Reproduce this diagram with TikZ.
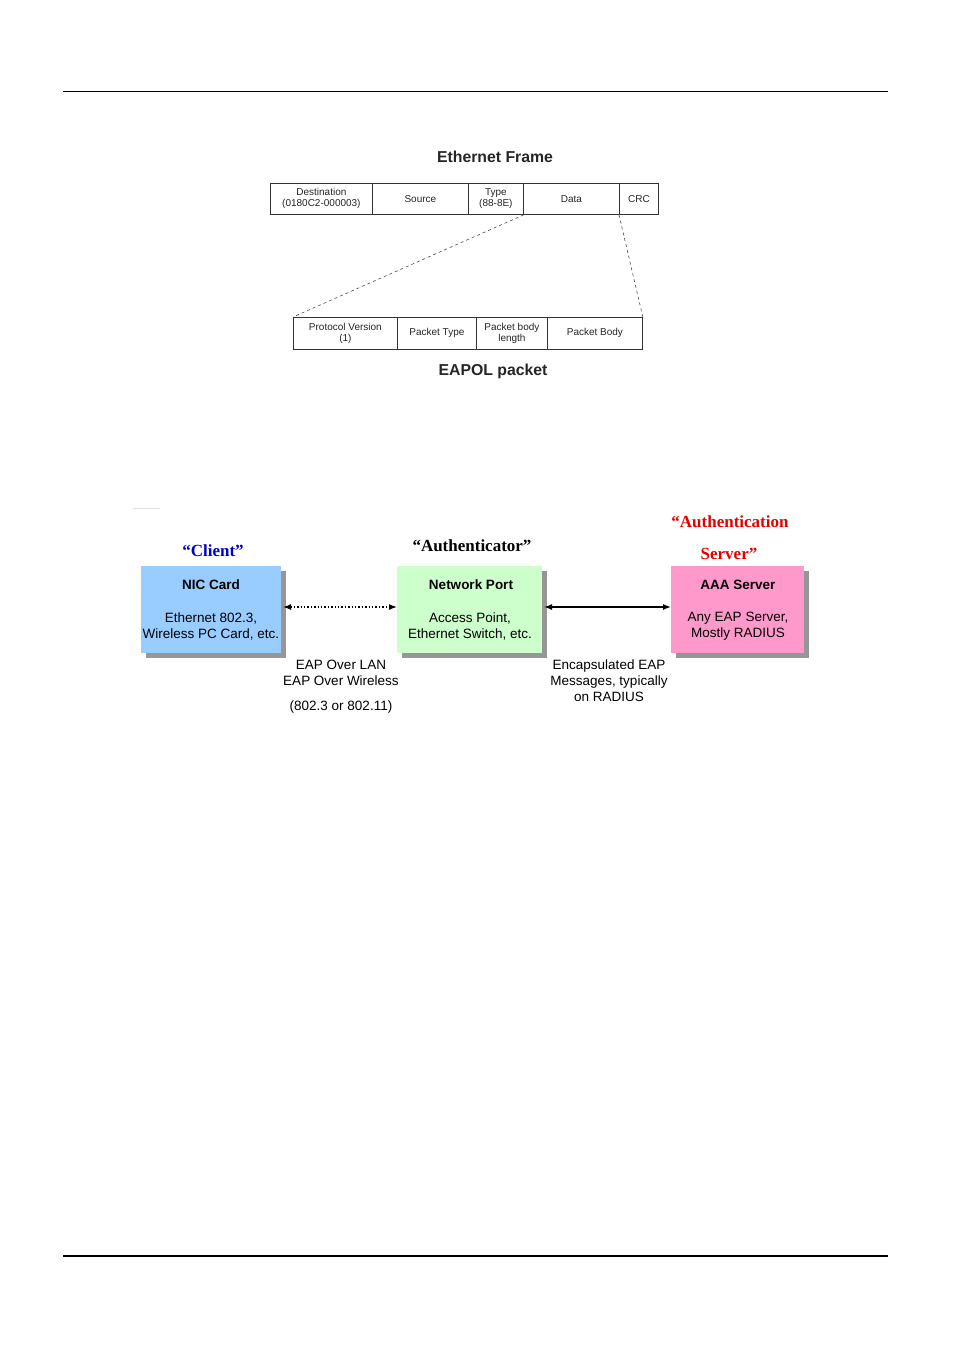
\documentclass[tikz,border=0pt]{standalone}
\usepackage{fontspec}
\setmainfont{Liberation Sans}
\newfontfamily\serifb{Liberation Serif}
\usetikzlibrary{arrows.meta}
\definecolor{clientblue}{RGB}{153,204,255}
\definecolor{portgreen}{RGB}{204,255,204}
\definecolor{aaapink}{RGB}{255,153,204}
\definecolor{shadowgray}{RGB}{150,150,150}
\begin{document}
\begin{tikzpicture}[x=1pt,y=-1pt,
  cell/.style={draw=black!80,line width=0.8pt,inner sep=0pt,align=center,font=\fontsize{10}{11}\selectfont,text=black!85},
  title/.style={font=\fontsize{15.8}{17}\selectfont\bfseries,text=black!85},
  ent/.style={inner sep=0pt,minimum width=#1,minimum height=87pt,anchor=north west},
  boxhead/.style={font=\fontsize{13.5}{15}\selectfont\bfseries},
  boxtext/.style={font=\fontsize{13.5}{16}\selectfont,align=center},
  role/.style={font=\fontsize{17}{18}\selectfont\serifb\bfseries},
  note/.style={font=\fontsize{13.5}{16}\selectfont,align=center},
  dashconn/.style={dashed,line width=0.6pt,black!70},
  arr/.style={{Latex[length=8pt,width=6pt]}-{Latex[length=8pt,width=6pt]},line width=1.4pt}
]
\useasboundingbox (0,0) rectangle (954,1350);
\fill[white] (0,0) rectangle (954,1350);
% page rules
\coordinate (r1a) at (63,91); \coordinate (r1b) at (888,91);
\draw[line width=0.7pt] (r1a) -- (r1b);
\coordinate (r2a) at (63,1256); \coordinate (r2b) at (888,1256);
\draw[line width=2.6pt] (r2a) -- (r2b);
\coordinate (fa) at (133,508); \coordinate (fb) at (160,508);
\draw[black!12,line width=0.8pt] (fa) -- (fb);

% Ethernet frame
\node[title] (ethT) at (495,157) {Ethernet Frame};
\node[cell,minimum width=102pt,minimum height=31pt,anchor=north west] (dest) at (270,183) {Destination\\(0180C2-000003)};
\node[cell,minimum width=96pt,minimum height=31pt,anchor=north west] (src) at (372,183) {Source};
\node[cell,minimum width=55pt,minimum height=31pt,anchor=north west] (type) at (468,183) {Type\\(88-8E)};
\node[cell,minimum width=96pt,minimum height=31pt,anchor=north west] (data) at (523,183) {Data};
\node[cell,minimum width=39pt,minimum height=31pt,anchor=north west] (crc) at (619,183) {CRC};

% EAPOL packet
\node[cell,minimum width=104pt,minimum height=32pt,anchor=north west] (pv) at (293,317) {Protocol Version\\(1)};
\node[cell,minimum width=79pt,minimum height=32pt,anchor=north west] (pt) at (397,317) {Packet Type};
\node[cell,minimum width=71pt,minimum height=32pt,anchor=north west] (pbl) at (476,317) {Packet body\\length};
\node[cell,minimum width=95pt,minimum height=32pt,anchor=north west] (pb) at (547,317) {Packet Body};
\node[title] (eapT) at (493,371) {EAPOL packet};

\draw[dashconn] (type.south east) -- (pv.north west);
\draw[dashconn] (crc.south west) -- (pb.north east);

% shadows
\fill[shadowgray] (146,571) rectangle (286,658);
\fill[shadowgray] (402,571) rectangle (547,658);
\fill[shadowgray] (676,571) rectangle (809,658);

% entity boxes
\node[ent=140pt,fill=clientblue] (nic) at (141,566) {};
\node[ent=145pt,fill=portgreen] (port) at (397,566) {};
\node[ent=133pt,fill=aaapink] (aaa) at (671,566) {};

\node[boxhead] (nicH) at (211,585) {NIC Card};
\node[boxtext] (nicT) at (211,626) {Ethernet 802.3,\\Wireless PC Card, etc.};
\node[boxhead] (portH) at (471,585) {Network Port};
\node[boxtext] (portT) at (470,626) {Access Point,\\Ethernet Switch, etc.};
\node[boxhead] (aaaH) at (738,585) {AAA Server};
\node[boxtext] (aaaT) at (738,626) {Any EAP Server,\\Mostly RADIUS};

% role labels
\node[role,text=blue!80!black] (client) at (213,551) {“Client”};
\node[role] (auth) at (472,546) {“Authenticator”};
\node[role,text=red!90!black] (authS1) at (730,522) {“Authentication};
\node[role,text=red!90!black] (authS2) at (729,554) {Server”};

% connectors
\coordinate (nicR) at (283,607);
\coordinate (portL) at (397,607);
\coordinate (portR) at (544,607);
\coordinate (aaaL) at (671,607);
\draw[arr,dotted] (nicR) -- (portL);
\draw[arr] (portR) -- (aaaL);

% notes
\node[note] (n1) at (341,673) {EAP Over LAN\\EAP Over Wireless};
\node[note] (n2) at (341,707) {(802.3 or 802.11)};
\node[note] (n3) at (609,681) {Encapsulated EAP\\Messages, typically\\on RADIUS};
\end{tikzpicture}
\end{document}
